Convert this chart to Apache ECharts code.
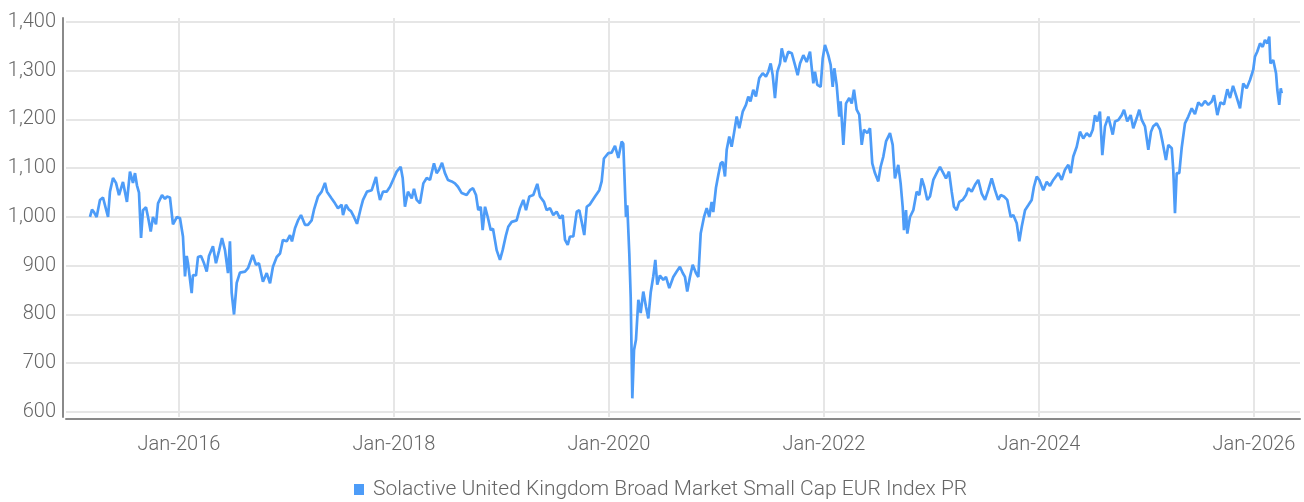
<!DOCTYPE html>
<html><head><meta charset="utf-8">
<script src="https://cdn.jsdelivr.net/npm/echarts@6/dist/echarts.min.js"></script>
<style>html,body{margin:0;padding:0;background:#fff}#c{width:1304px;height:502px}</style>
</head><body><div id="c"></div>
<script>
const seriesName = 'Solactive United Kingdom Broad Market Small Cap EUR Index PR';
// time in decimal years
const years = [
2015.172,2015.191,2015.209,2015.234,2015.265,2015.293,2015.340,2015.358,2015.386,2015.414,2015.442,2015.479,2015.516,2015.544,2015.572,2015.591,2015.609,2015.628,2015.647,2015.665,2015.693,2015.712,2015.737,2015.758,2015.786,2015.805,2015.842,2015.870,2015.888,2015.916,2015.944,2015.981,
2016.009,2016.037,2016.056,2016.072,2016.084,2016.118,2016.130,2016.158,2016.177,2016.205,2016.233,2016.258,2016.279,2016.316,2016.344,2016.372,2016.400,2016.428,2016.456,2016.474,2016.490,2016.512,2016.537,2016.567,2016.614,2016.642,2016.686,2016.716,2016.744,2016.781,2016.816,2016.847,2016.874,2016.909,2016.940,2016.967,
2017.002,2017.033,2017.051,2017.079,2017.107,2017.135,2017.172,2017.200,2017.234,2017.256,2017.293,2017.327,2017.358,2017.377,2017.420,2017.451,2017.479,2017.513,2017.526,2017.553,2017.581,2017.600,2017.628,2017.656,2017.690,2017.712,2017.749,2017.793,2017.833,2017.851,2017.870,2017.898,2017.932,2017.963,2017.991,
2018.025,2018.062,2018.081,2018.102,2018.130,2018.165,2018.186,2018.211,2018.242,2018.273,2018.304,2018.335,2018.372,2018.397,2018.419,2018.447,2018.474,2018.502,2018.537,2018.567,2018.595,2018.630,2018.676,2018.707,2018.735,2018.763,2018.784,2018.807,2018.825,2018.847,2018.872,2018.900,2018.921,2018.955,2018.986,
2019.011,2019.042,2019.063,2019.095,2019.141,2019.172,2019.203,2019.228,2019.259,2019.296,2019.333,2019.358,2019.395,2019.420,2019.451,2019.482,2019.513,2019.544,2019.569,2019.591,2019.616,2019.637,2019.668,2019.700,2019.724,2019.746,2019.770,2019.793,2019.823,2019.870,2019.910,2019.932,2019.953,2019.994,
2020.025,2020.056,2020.087,2020.118,2020.133,2020.158,2020.170,2020.189,2020.202,2020.217,2020.233,2020.251,2020.273,2020.295,2020.319,2020.344,2020.366,2020.388,2020.412,2020.431,2020.449,2020.474,2020.505,2020.530,2020.561,2020.598,2020.630,2020.660,2020.686,2020.707,2020.728,2020.753,2020.779,2020.809,2020.831,2020.853,2020.884,2020.909,2020.933,2020.955,2020.970,2020.995,
2021.017,2021.039,2021.058,2021.079,2021.095,2021.119,2021.141,2021.163,2021.188,2021.212,2021.244,2021.274,2021.296,2021.316,2021.342,2021.367,2021.398,2021.430,2021.460,2021.482,2021.504,2021.523,2021.544,2021.566,2021.591,2021.607,2021.637,2021.668,2021.700,2021.730,2021.755,2021.777,2021.808,2021.839,2021.870,2021.901,2021.916,2021.938,2021.969,2021.988,
2022.009,2022.040,2022.062,2022.081,2022.096,2022.118,2022.142,2022.155,2022.180,2022.205,2022.235,2022.258,2022.279,2022.304,2022.328,2022.351,2022.372,2022.403,2022.428,2022.449,2022.474,2022.505,2022.527,2022.552,2022.577,2022.614,2022.639,2022.660,2022.691,2022.713,2022.732,2022.744,2022.763,2022.775,2022.800,2022.831,2022.862,2022.887,2022.909,2022.933,2022.961,2022.986,
2023.017,2023.048,2023.079,2023.110,2023.135,2023.163,2023.188,2023.209,2023.234,2023.259,2023.290,2023.321,2023.342,2023.374,2023.405,2023.435,2023.467,2023.498,2023.528,2023.560,2023.591,2023.621,2023.644,2023.674,2023.705,2023.737,2023.761,2023.793,2023.817,2023.839,2023.870,2023.900,2023.932,2023.953,2023.979,
2024.003,2024.040,2024.072,2024.102,2024.133,2024.180,2024.211,2024.242,2024.273,2024.295,2024.319,2024.351,2024.381,2024.412,2024.444,2024.474,2024.500,2024.521,2024.542,2024.567,2024.589,2024.614,2024.645,2024.660,2024.686,2024.707,2024.738,2024.770,2024.791,2024.821,2024.853,2024.877,2024.909,2024.933,2024.956,2024.986,
2025.017,2025.042,2025.063,2025.095,2025.126,2025.151,2025.181,2025.203,2025.235,2025.249,2025.265,2025.281,2025.305,2025.327,2025.358,2025.389,2025.421,2025.451,2025.482,2025.514,2025.544,2025.575,2025.607,2025.628,2025.659,2025.688,2025.721,2025.752,2025.777,2025.805,2025.837,2025.870,2025.900,2025.932,2025.963,2025.993,
2026.009,2026.030,2026.056,2026.081,2026.102,2026.124,2026.142,2026.153,2026.179,2026.205,2026.217,2026.235,2026.249,2026.258
];
const values = [
1000,1015,1010,1000,1035,1040,1000,1052,1080,1070,1045,1072,1031,1093,1070,1090,1065,1050,957,1014,1020,1000,970,1000,985,1028,1045,1037,1042,1040,985,1000,
998,960,878,920,905,844,881,880,918,920,905,888,920,940,905,930,957,932,885,950,845,800,865,886,888,895,922,902,905,867,885,864,898,918,925,953,
950,963,950,977,993,1004,984,984,993,1015,1042,1052,1070,1052,1038,1028,1018,1025,1004,1025,1015,1012,1000,986,1017,1035,1052,1055,1082,1055,1035,1052,1052,1062,1076,
1093,1103,1080,1021,1052,1038,1058,1035,1028,1069,1080,1076,1110,1090,1097,1111,1090,1076,1073,1069,1062,1049,1045,1055,1059,1045,1014,1021,973,1021,1000,973,976,932,912,
932,963,980,990,993,1018,1035,1014,1042,1045,1068,1042,1031,1014,1018,1004,1011,997,1004,953,943,960,960,1011,1014,990,963,1021,1026,1042,1055,1073,1120,1131,
1132,1146,1121,1155,1150,1000,1024,925,836,628,727,748,830,803,847,816,792,845,878,912,861,880,871,877,854,877,888,898,885,877,847,877,902,885,877,966,1000,1018,1000,1031,1010,1060,
1086,1110,1113,1083,1138,1165,1144,1172,1206,1182,1216,1230,1247,1237,1261,1247,1285,1295,1288,1298,1315,1291,1244,1298,1315,1346,1318,1339,1336,1312,1291,1315,1332,1318,1339,1274,1298,1271,1267,1325,
1353,1332,1312,1267,1305,1271,1206,1237,1148,1233,1244,1233,1261,1220,1210,1148,1179,1172,1182,1110,1090,1073,1103,1124,1155,1172,1148,1079,1107,1069,1021,973,1014,966,1000,1014,1052,1045,1079,1062,1035,1042,
1076,1090,1103,1090,1079,1093,1052,1021,1014,1031,1035,1045,1059,1052,1066,1076,1048,1035,1055,1079,1055,1035,1045,1042,1035,1000,1004,987,950,980,1014,1024,1035,1062,1083,
1076,1055,1072,1064,1076,1090,1076,1097,1107,1090,1124,1144,1175,1161,1172,1165,1179,1209,1196,1216,1127,1186,1206,1203,1169,1196,1199,1209,1220,1196,1209,1182,1203,1220,1199,1186,
1138,1175,1186,1192,1179,1152,1117,1148,1141,1097,1008,1090,1090,1141,1192,1206,1223,1211,1235,1228,1238,1230,1237,1250,1209,1235,1231,1262,1244,1269,1247,1223,1274,1264,1281,1302,
1329,1339,1356,1349,1363,1356,1370,1315,1322,1295,1261,1230,1264,1254
];
const xTickYears = [2016, 2018, 2020, 2022, 2024, 2026];
const yTicks = [600, 700, 800, 900, 1000, 1100, 1200, 1300, 1400];

const textColor = '#666666';
const font = 'Roboto';
const chart = echarts.init(document.getElementById('c'), null, {renderer: 'canvas'});
chart.setOption({
  animation: false,
  backgroundColor: '#ffffff',
  grid: {left: 66, right: 4, top: 18, bottom: 85},
  legend: {
    show: true, left: 354, top: 479, padding: 0, icon: 'rect', itemWidth: 10, itemHeight: 11,
    textStyle: {fontSize: 21, color: textColor, fontFamily: font, fontWeight: 300, padding: [0, 0, 0, 4]},
    data: [seriesName]
  },
  xAxis: {
    type: 'value', min: 2014.949, max: 2026.428, offset: 2,
    axisLine: {show: true, onZero: false, lineStyle: {color: '#8a8a8a', width: 2}},
    axisTick: {show: false, customValues: xTickYears},
    axisLabel: {customValues: xTickYears, formatter: v => 'Jan-' + v, color: textColor,
      fontSize: 20, fontFamily: font, fontWeight: 300, margin: 16},
    splitLine: {show: true, lineStyle: {color: '#e6e6e6', width: 2}}
  },
  yAxis: {
    type: 'value', min: 589.7, max: 1408.2, offset: 3,
    axisLine: {show: true, lineStyle: {color: '#8a8a8a', width: 2}},
    axisTick: {show: false, customValues: yTicks},
    axisLabel: {customValues: yTicks, formatter: v => String(v).replace(/\B(?=(\d{3})+(?!\d))/g, ','),
      color: textColor, fontSize: 20, fontFamily: font, fontWeight: 300, margin: 7},
    splitLine: {show: true, lineStyle: {color: '#e6e6e6', width: 2}}
  },
  series: [{
    name: seriesName, type: 'line', showSymbol: false, symbol: 'none',
    data: years.map((t, i) => [t, values[i]]),
    lineStyle: {color: '#4d9cf8', width: 2.7},
    itemStyle: {color: '#4d9cf8'}
  }]
});
</script></body></html>
